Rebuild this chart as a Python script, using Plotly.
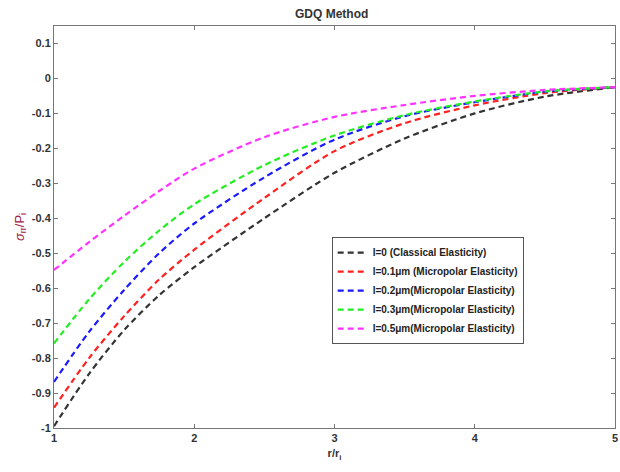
import plotly.graph_objects as go

r = [1.0, 1.25, 1.5, 1.75, 2.0, 2.5, 3.0, 3.5, 4.0, 4.5, 5.0]
s_l0 = [-0.995, -0.845, -0.72, -0.62, -0.54, -0.40, -0.27, -0.172, -0.10, -0.052, -0.025]
s_l01 = [-0.942, -0.80, -0.68, -0.575, -0.49, -0.342, -0.208, -0.128, -0.077, -0.042, -0.025]
s_l02 = [-0.868, -0.725, -0.605, -0.50, -0.415, -0.283, -0.175, -0.108, -0.068, -0.038, -0.025]
s_l03 = [-0.758, -0.632, -0.525, -0.435, -0.36, -0.248, -0.163, -0.105, -0.066, -0.037, -0.025]
s_l05 = [-0.548, -0.468, -0.393, -0.322, -0.258, -0.168, -0.11, -0.076, -0.05, -0.033, -0.025]

names = ["l=0 (Classical Elasticity)",
         "l=0.1\u03bcm (Micropolar Elasticity)",
         "l=0.2\u03bcm(Micropolar Elasticity)",
         "l=0.3\u03bcm(Micropolar Elasticity)",
         "l=0.5\u03bcm(Micropolar Elasticity)"]
colors = ["#333333", "#ff2020", "#1a1aff", "#22ee22", "#ff33ff"]
series = [s_l0, s_l01, s_l02, s_l03, s_l05]
xticks = [1, 2, 3, 4, 5]
yticks = [-1, -0.9, -0.8, -0.7, -0.6, -0.5, -0.4, -0.3, -0.2, -0.1, 0, 0.1]

fig = go.Figure()
for n, c, s in zip(names, colors, series):
    fig.add_trace(go.Scatter(x=r, y=s, mode="lines", name="<b>" + n + "</b>",
                             line=dict(color=c, width=2.2, dash="6px,4px", shape="spline", smoothing=0.8)))

axis_common = dict(showline=True, linecolor="#777777", linewidth=1, mirror="ticks",
                   ticks="inside", ticklen=4, tickcolor="#777777", showgrid=False,
                   zeroline=False, ticklabeloverflow="allow",
                   tickfont=dict(family="Liberation Sans, Arial", size=11, color="#333333"))

fig.update_layout(
    width=620, height=472,
    margin=dict(l=54, r=2, t=26, b=44),
    paper_bgcolor="white", plot_bgcolor="white",
    title=dict(text="<b>GDQ Method</b>", x=0.535, xanchor="center", y=0.97, yanchor="middle",
               font=dict(family="Liberation Sans, Arial", size=12, color="#333333")),
    xaxis=dict(range=[1, 5], tickvals=xticks, ticktext=["<b>%g</b>" % v for v in xticks],
               title=dict(text="<b>r/r<sub>i</sub></b>", standoff=6,
                          font=dict(family="Liberation Sans, Arial", size=11, color="#333333")),
               **axis_common),
    yaxis=dict(range=[-1, 0.15], tickvals=yticks, ticktext=["<b>%g</b>" % v for v in yticks],
               title=dict(text="<i>\u03c3</i><sub>rr</sub>/P<sub>i</sub>", standoff=4,
                          font=dict(family="Liberation Sans, Arial", size=13, color="#a02040")),
               **axis_common),
    legend=dict(x=0.495, y=0.475, xanchor="left", yanchor="top",
                bgcolor="white", bordercolor="#555555", borderwidth=1,
                font=dict(family="Liberation Sans, Arial", size=10, color="#222222"),
                tracegroupgap=0, itemwidth=30),
    showlegend=True,
)

fig.write_html("out.html", config={"displayModeBar": False},
               post_script="document.body.style.margin='0px';")
